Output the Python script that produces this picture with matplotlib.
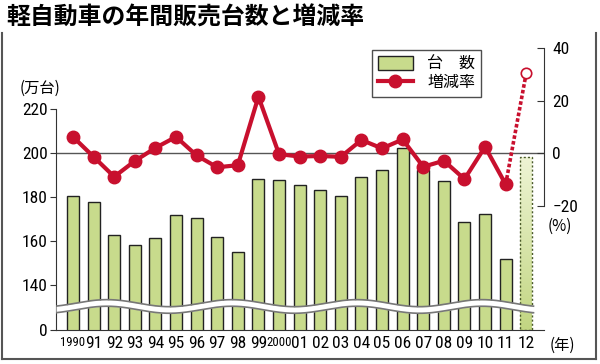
import matplotlib
matplotlib.use("Agg")
import matplotlib.pyplot as plt
from matplotlib import font_manager as fm
from matplotlib.patches import Patch, Rectangle
from matplotlib.lines import Line2D
import numpy as np

plt.rcParams['font.family'] = ['Noto Sans CJK JP', 'DejaVu Sans']

# データ
years = ['1990', '91', '92', '93', '94', '95', '96', '97', '98', '99', '2000',
         '01', '02', '03', '04', '05', '06', '07', '08', '09', '10', '11', '12']
sales = [180.3, 177.9, 162.6, 158.0, 161.5, 171.8, 170.6, 161.6, 155.0, 188.2, 187.6,
         185.3, 183.0, 180.5, 189.1, 192.3, 202.3, 192.0, 187.0, 168.6, 172.4, 151.8]
sales_2012 = 198.0
rate = [6.3, -1.3, -8.9, -2.9, 2.1, 6.3, -0.8, -5.3, -4.5, 21.6, -0.3,
        -1.2, -1.0, -1.3, 5.1, 1.9, 5.3, -5.1, -2.8, -9.8, 2.5, -11.8]
rate_2012 = 30.7

BAR = '#c8db8c'
RED = '#c8102e'
W, H = 600, 364

# 数字用の細い書体を探す
narrow = None
for name in ['Liberation Sans Narrow', 'Roboto Condensed', 'DejaVu Sans',
             'Open Sans', 'Noto Sans']:
    for f in fm.fontManager.ttflist:
        if (f.name == name and f.style == 'normal' and f.weight in (400, 'normal')
                and f.stretch in ('condensed', 'semi-condensed', 'extra-condensed')):
            narrow = f.fname
            break
    if narrow:
        break

def numfont(size):
    if narrow:
        return fm.FontProperties(fname=narrow, size=size)
    return fm.FontProperties(family='DejaVu Sans', size=size)

fig = plt.figure(figsize=(6, 3.64), dpi=100)
ax = fig.add_axes([56 / W, 34 / H, 488 / W, 290 / H])
ax2 = ax.twinx()

x = np.arange(len(years))
base = 119.5  # 軸の「0」の位置(省略線の下)

# 0%の線
ax.axhline(200, color='#555555', lw=1, zorder=1)

bw = 0.58
ax.bar(x[:-1], sales, width=bw, color=BAR, edgecolor='#222222', lw=1, zorder=2)

# 2012年(見込み)グラデーション
grad = np.linspace(0, 1, 100).reshape(-1, 1)
cmap = matplotlib.colors.LinearSegmentedColormap.from_list('g', ['#c2d682', '#eef4d4'])
im = ax.imshow(grad, extent=[x[-1] - bw / 2, x[-1] + bw / 2, base, sales_2012],
               origin='lower', cmap=cmap, aspect='auto', zorder=2)
rect = Rectangle((x[-1] - bw / 2, base), bw, sales_2012 - base, fill=False,
                 edgecolor='#4a5a2a', lw=1, ls=(0, (1.5, 1.5)), zorder=3)
ax.add_patch(rect)
im.set_clip_path(rect)

ax.set_xlim(-0.825, 22.86)
ax.set_ylim(base, 251.3)
ax2.set_ylim(-67.3, 43.2)

# 増減率
ax2.plot(x[:-1], rate, color=RED, lw=3, marker='o', ms=9, zorder=5)
ax2.plot([x[-2], x[-1]], [rate[-1], rate_2012], color=RED, lw=2.6,
         ls=(0, (1, 0.6)), zorder=4)
ax2.plot([x[-1]], [rate_2012], marker='o', ms=7.5, mfc='white', mec=RED,
         mew=1.2, ls='none', zorder=6)

# 省略の波線
xs = np.linspace(-0.825, 22.35, 400)
wy = 130.2 + 1.6 * np.sin(2 * np.pi * (xs - 1.65) / 6.07 + np.pi / 2)
ax.fill_between(xs, wy - 1.5, wy + 1.5, color='white', zorder=7, lw=0)
ax.plot(xs, wy - 1.5, color='#777777', lw=1.2, zorder=8)
ax.plot(xs, wy + 1.5, color='#777777', lw=1.2, zorder=8)

# 軸
for s in ['top', 'right']:
    ax.spines[s].set_visible(False)
for s in ['top', 'left', 'bottom']:
    ax2.spines[s].set_visible(False)
ax.spines['left'].set_bounds(base, 220)
ax.spines['left'].set_color('#333333')
ax.spines['bottom'].set_color('#333333')
ax2.spines['right'].set_bounds(-20, 40)
ax2.spines['right'].set_color('#333333')

ax.set_yticks([base, 140, 160, 180, 200, 220])
ax.set_yticklabels(['0', '140', '160', '180', '200', '220'])
ax.tick_params(axis='y', direction='out', length=4, pad=2, color='#333333')
ax.set_xticks(x)
ax.set_xticklabels(years)
ax.tick_params(axis='x', length=0, pad=4)
ax2.set_yticks([-20, 0, 20, 40])
ax2.tick_params(axis='y', direction='in', length=5, pad=6, color='#333333')
for lab in ax.get_yticklabels() + ax2.get_yticklabels():
    lab.set_fontproperties(numfont(12.5))
for lab in ax.get_xticklabels():
    t = lab.get_text()
    if narrow:
        lab.set_fontproperties(numfont(12.5 if len(t) == 2 else 9.2))
    else:
        lab.set_fontproperties(numfont(10.5 if len(t) == 2 else 7.5))

fig.text(20 / W, 1 - 88 / H, '(万台)', fontsize=11, va='center', ha='left')
fig.text(548 / W, 1 - 226 / H, '(%)', fontsize=11, va='center', ha='left')
fig.text(550 / W, 1 - 345 / H, '(年)', fontsize=11, va='center', ha='left')

# 凡例
handles = [Patch(facecolor=BAR, edgecolor='#222222', lw=1),
           Line2D([], [], color=RED, lw=3, marker='o', ms=9)]
leg = ax.legend(handles, ['台\u3000数', '増減率'], loc='upper left',
                bbox_to_anchor=(372 / W, 1 - 50 / H), bbox_transform=fig.transFigure,
                borderaxespad=0, fancybox=False, edgecolor='#222222', fontsize=11.5,
                borderpad=0.35, handlelength=2.2, handleheight=1.0,
                labelspacing=0.1, handletextpad=0.9)
leg.get_frame().set_linewidth(1)
leg.set_zorder(10)

# タイトル
fig.text(6 / W, 1 - 18 / H, '軽自動車の年間販売台数と増減率', fontsize=17.2,
         fontweight='bold', va='center', ha='left')

# 枠線
fig.add_artist(Line2D([1.5 / W, 1.5 / W], [1 - 33 / H, 1 - 358.5 / H],
                      transform=fig.transFigure, color='#555555', lw=1.5))
fig.add_artist(Line2D([596 / W, 596 / W], [1 - 33 / H, 1 - 358.5 / H],
                      transform=fig.transFigure, color='#555555', lw=1.5))
fig.add_artist(Line2D([1.5 / W, 596 / W], [1 - 358.5 / H, 1 - 358.5 / H],
                      transform=fig.transFigure, color='#555555', lw=1.5))

fig.savefig('out.png', dpi=100)
